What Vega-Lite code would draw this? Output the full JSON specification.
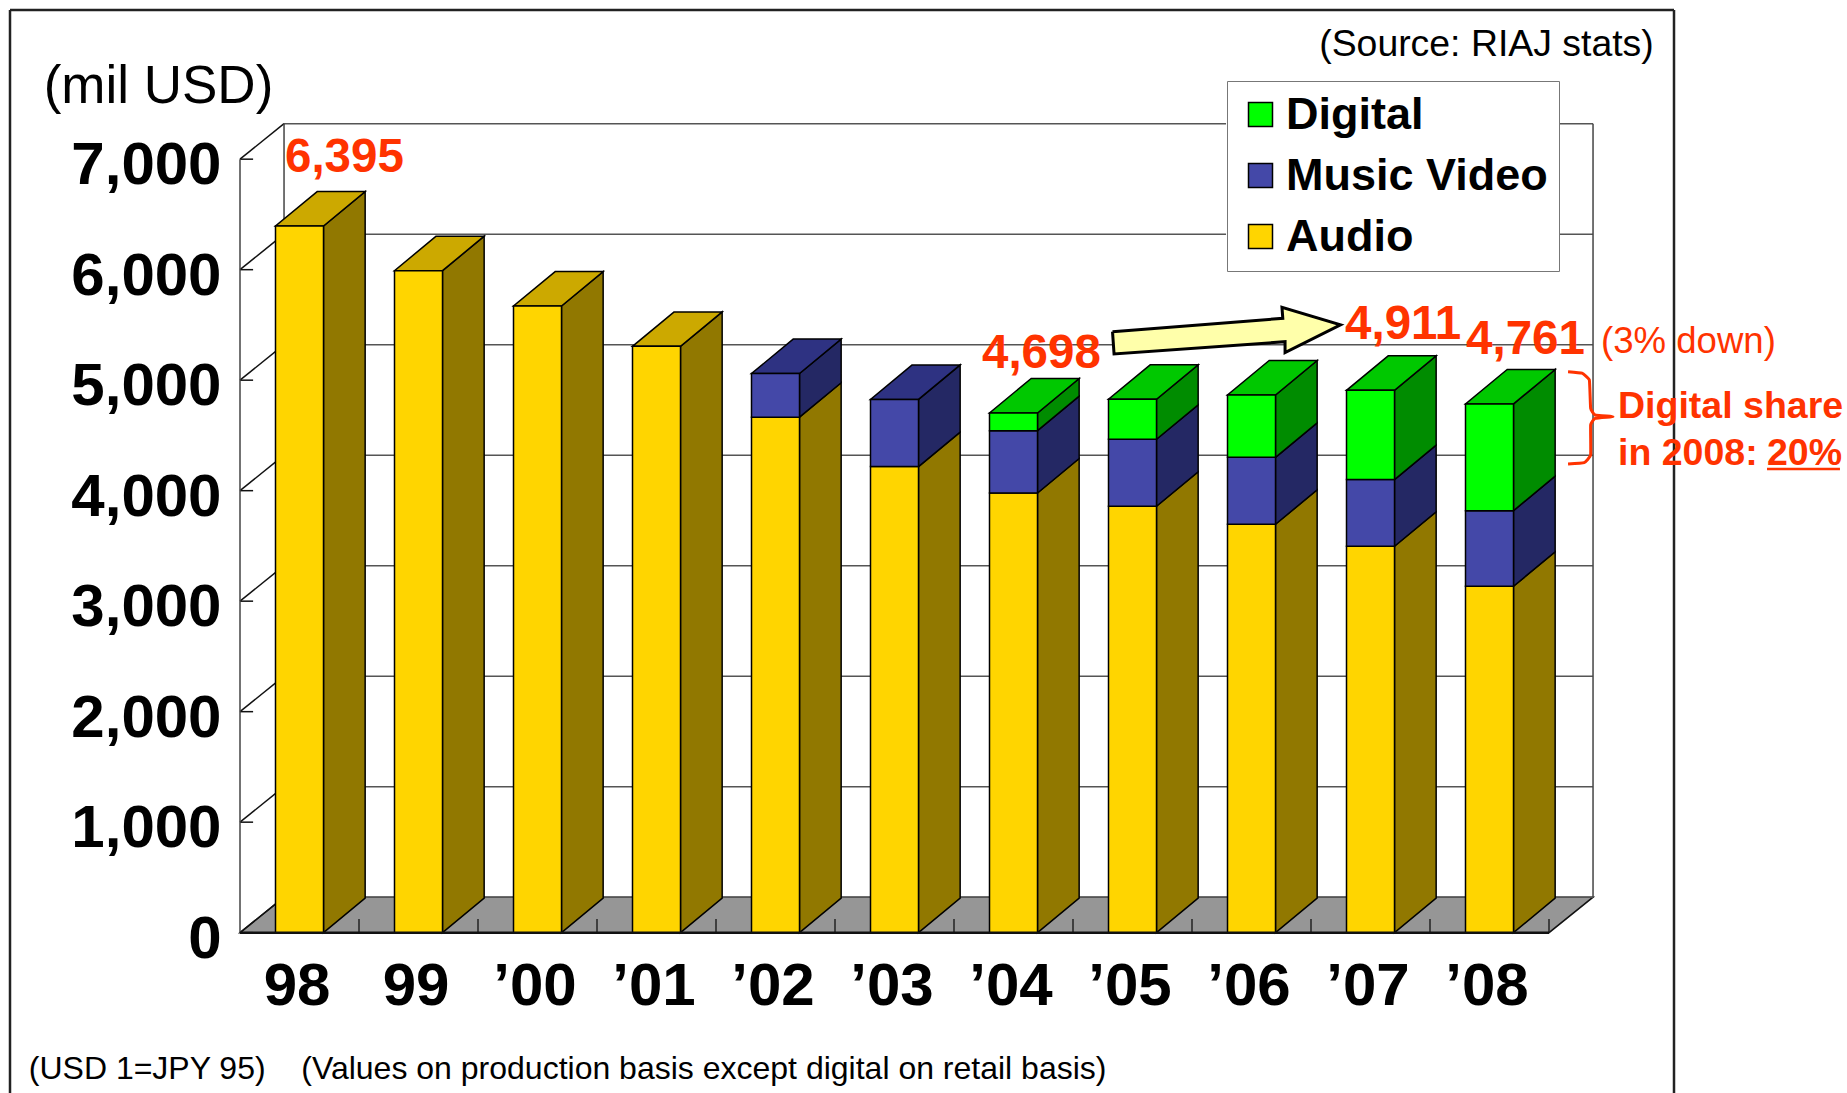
{
"$schema":"https://vega.github.io/schema/vega-lite/v6.json",
"width":1664,"height":1083,
"autosize":{"type":"none"},
"padding":{"left":10,"top":10,"right":173,"bottom":0},
"background":"white",
"view":{"stroke":null},
"config":{"font":"Liberation Sans"},
"datasets":{
"sales":[
{"year":"98","idx":0,"series":"Audio","rank":1,"value":6395},
{"year":"99","idx":1,"series":"Audio","rank":1,"value":5991},
{"year":"'00","idx":2,"series":"Audio","rank":1,"value":5671},
{"year":"'01","idx":3,"series":"Audio","rank":1,"value":5306},
{"year":"'02","idx":4,"series":"Audio","rank":1,"value":4665},
{"year":"'02","idx":4,"series":"Music Video","rank":2,"value":395},
{"year":"'03","idx":5,"series":"Audio","rank":1,"value":4218},
{"year":"'03","idx":5,"series":"Music Video","rank":2,"value":608},
{"year":"'04","idx":6,"series":"Audio","rank":1,"value":3979},
{"year":"'04","idx":6,"series":"Music Video","rank":2,"value":564},
{"year":"'04","idx":6,"series":"Digital","rank":3,"value":160},
{"year":"'05","idx":7,"series":"Audio","rank":1,"value":3859},
{"year":"'05","idx":7,"series":"Music Video","rank":2,"value":606},
{"year":"'05","idx":7,"series":"Digital","rank":3,"value":362},
{"year":"'06","idx":8,"series":"Audio","rank":1,"value":3696},
{"year":"'06","idx":8,"series":"Music Video","rank":2,"value":606},
{"year":"'06","idx":8,"series":"Digital","rank":3,"value":564},
{"year":"'07","idx":9,"series":"Audio","rank":1,"value":3497},
{"year":"'07","idx":9,"series":"Music Video","rank":2,"value":603},
{"year":"'07","idx":9,"series":"Digital","rank":3,"value":808},
{"year":"'08","idx":10,"series":"Audio","rank":1,"value":3135},
{"year":"'08","idx":10,"series":"Music Video","rank":2,"value":684},
{"year":"'08","idx":10,"series":"Digital","rank":3,"value":966}
],
"ticks":[{"tick":0},{"tick":1000},{"tick":2000},{"tick":3000},{"tick":4000},{"tick":5000},{"tick":6000},{"tick":7000}],
"cats":[{"c":0.5},{"c":1.5},{"c":2.5},{"c":3.5},{"c":4.5},{"c":5.5},{"c":6.5},{"c":7.5},{"c":8.5},{"c":9.5},{"c":10.5}],
"floor":[{"a":-0.5,"b":10.5,"v":0},{"a":-0.13,"b":10.87,"v":321}],
"walls":[
{"a":-0.5,"b":-0.5,"v":0,"w":7000},
{"a":-0.13,"b":-0.13,"v":321,"w":7321},
{"a":10.87,"b":10.87,"v":321,"w":7321}
],
"frame":[
{"a":-2.4328,"b":-2.4328,"v":-1451,"w":8350},
{"a":11.5504,"b":11.5504,"v":-1451,"w":8350},
{"a":-2.4328,"b":11.5504,"v":8350,"w":8350}
],
"mask":[{"a":7.786,"b":10.584,"v":6200,"w":7400}],
"arrow":[
{"n":0,"a":6.832,"v":5439},{"n":1,"a":8.263,"v":5560},{"n":2,"a":8.256,"v":5660},{"n":3,"a":8.748,"v":5500},{"n":4,"a":8.282,"v":5249},{"n":5,"a":8.282,"v":5348},{"n":6,"a":6.845,"v":5237},{"n":7,"a":6.832,"v":5439}
],
"brace":[
{"n":0,"a":10.66,"v":5077},{"n":1,"a":10.777,"v":5063},{"n":2,"a":10.839,"v":5002},{"n":3,"a":10.85,"v":4746},{"n":4,"a":10.887,"v":4685},{"n":5,"a":11.038,"v":4670},{"n":6,"a":10.887,"v":4655},{"n":7,"a":10.85,"v":4595},{"n":8,"a":10.85,"v":4323},{"n":9,"a":10.795,"v":4253},{"n":10,"a":10.66,"v":4241}
]
},
"resolve":{"scale":{"fill":"independent"}},
"layer":[
{"data":{"name":"floor"},"mark":{"type":"area","orient":"horizontal","fill":"#969696","stroke":"#111","strokeWidth":1.5},
 "encoding":{
  "y":{"field":"v","type":"quantitative","stack":null,"scale":{"domain":[-1451,8350],"nice":false,"zero":false},
   "axis":{"values":[0,1000,2000,3000,4000,5000,6000,7000],"format":",d","title":null,"domain":false,"ticks":false,"grid":false,"offset":-230,"labelPadding":19,"labelFont":"Liberation Sans","labelFontWeight":"bold","labelFontSize":60,"labelColor":"#000","labelBaseline":"middle","labelOffset":6.5,"labelBound":false,"labelFlush":false,"labelOverlap":false}},
  "x":{"field":"a","type":"quantitative","scale":{"domain":[-2.4328,11.5504],"nice":false,"zero":false},
   "axis":{"values":[0,1,2,3,4,5,6,7,8,9,10],"labelExpr":"['98','99','’00','’01','’02','’03','’04','’05','’06','’07','’08'][datum.value]","title":null,"domain":false,"ticks":false,"grid":false,"offset":-135.5,"labelPadding":0,"labelOffset":-3,"labelFont":"Liberation Sans","labelFontWeight":"bold","labelFontSize":60,"labelColor":"#000","labelBound":false,"labelFlush":false,"labelOverlap":false}},
  "x2":{"field":"b"}
 }},
{"data":{"name":"ticks"},"transform":[{"calculate":"datum.tick+321","as":"back"}],"mark":{"type":"rule","stroke":"#555","strokeWidth":1.5},
 "encoding":{"y":{"field":"back","type":"quantitative"},"x":{"datum":-0.13},"x2":{"datum":10.87}}},
{"data":{"name":"mask"},"mark":{"type":"rect","fill":"white"},
 "encoding":{"x":{"field":"a","type":"quantitative"},"x2":{"field":"b"},"y":{"field":"v","type":"quantitative"},"y2":{"field":"w"}}},
{"data":{"name":"ticks"},"transform":[{"calculate":"datum.tick+321","as":"back"}],"mark":{"type":"rule","stroke":"#111","strokeWidth":1.5},
 "encoding":{"y":{"field":"tick","type":"quantitative"},"y2":{"field":"back"},"x":{"datum":-0.5},"x2":{"datum":-0.13}}},
{"data":{"name":"ticks"},"mark":{"type":"rule","stroke":"#111","strokeWidth":1.5},
 "encoding":{"y":{"field":"tick","type":"quantitative"},"x":{"datum":-0.5},"x2":{"datum":-0.39}}},
{"data":{"name":"walls"},"mark":{"type":"rule","stroke":"#444","strokeWidth":1.5},
 "encoding":{"x":{"field":"a","type":"quantitative"},"x2":{"field":"b"},"y":{"field":"v","type":"quantitative"},"y2":{"field":"w"}}},
{"data":{"name":"cats"},"mark":{"type":"rule","stroke":"#222","strokeWidth":1.5},
 "encoding":{"x":{"field":"c","type":"quantitative"},"y":{"datum":0},"y2":{"datum":124}}},
{"data":{"name":"sales"},
 "transform":[
  {"stack":"value","groupby":["idx"],"sort":[{"field":"rank","order":"ascending"}],"as":["low","high"]},
  {"calculate":"datum.idx+0.2017","as":"xr"},
  {"calculate":"[0,1]","as":"side"},{"flatten":["side"]},
  {"calculate":"datum.xr+datum.side*0.35","as":"sx"},
  {"calculate":"datum.low+datum.side*312","as":"sl"},
  {"calculate":"datum.high+datum.side*312","as":"sh"}
 ],
 "mark":{"type":"area","stroke":"#000","strokeWidth":1.5},
 "encoding":{
  "x":{"field":"sx","type":"quantitative"},
  "y":{"field":"sl","type":"quantitative","stack":null},
  "y2":{"field":"sh"},
  "detail":[{"field":"idx"},{"field":"series"}],
  "fill":{"field":"series","type":"nominal","legend":null,"scale":{"domain":["Digital","Music Video","Audio"],"range":["#008C00","#242864","#917800"]}}
 }},
{"data":{"name":"sales"},
 "transform":[
  {"stack":"value","groupby":["idx"],"sort":[{"field":"rank","order":"ascending"}],"as":["low","high"]},
  {"joinaggregate":[{"op":"max","field":"high","as":"top"}],"groupby":["idx"]},
  {"filter":"datum.high==datum.top"},
  {"calculate":"[0,1]","as":"side"},{"flatten":["side"]},
  {"calculate":"datum.idx-0.2017+datum.side*0.35","as":"tl"},
  {"calculate":"datum.idx+0.2017+datum.side*0.35","as":"tr"},
  {"calculate":"datum.high+datum.side*312","as":"tv"}
 ],
 "mark":{"type":"area","orient":"horizontal","stroke":"#000","strokeWidth":1.5},
 "encoding":{
  "y":{"field":"tv","type":"quantitative","stack":null},
  "x":{"field":"tl","type":"quantitative"},
  "x2":{"field":"tr"},
  "detail":{"field":"idx"},
  "fill":{"field":"series","type":"nominal","legend":null,"scale":{"domain":["Digital","Music Video","Audio"],"range":["#00C800","#2E3282","#CCA900"]}}
 }},
{"data":{"name":"sales"},
 "transform":[
  {"stack":"value","groupby":["idx"],"sort":[{"field":"rank","order":"ascending"}],"as":["low","high"]},
  {"calculate":"datum.idx-0.2017","as":"xl"},
  {"calculate":"datum.idx+0.2017","as":"xr"}
 ],
 "mark":{"type":"rect","stroke":"#000","strokeWidth":1.5},
 "encoding":{
  "x":{"field":"xl","type":"quantitative"},"x2":{"field":"xr"},
  "y":{"field":"low","type":"quantitative"},"y2":{"field":"high"},
  "fill":{"field":"series","type":"nominal","sort":null,
   "scale":{"domain":["Digital","Music Video","Audio"],"range":["#00FF00","#4448A8","#FFD500"]},
   "legend":{"title":null,"orient":"none","legendX":1217,"legendY":71,"fillColor":"white","strokeColor":"#777","padding":11,"symbolType":"square","symbolSize":576,"symbolStrokeColor":"#000","symbolStrokeWidth":1.5,"labelFont":"Liberation Sans","labelFontWeight":"bold","labelFontSize":45,"labelColor":"#000","labelOffset":3,"labelLimit":400,"rowPadding":15}}
 }},
{"data":{"name":"floor"},"transform":[{"filter":"datum.v==0"}],"mark":{"type":"rule","stroke":"#111","strokeWidth":2.5},
 "encoding":{"x":{"field":"a","type":"quantitative"},"x2":{"field":"b"},"y":{"field":"v","type":"quantitative"}}},
{"data":{"name":"frame"},"mark":{"type":"rule","stroke":"#222","strokeWidth":2.5},
 "encoding":{"x":{"field":"a","type":"quantitative"},"x2":{"field":"b"},"y":{"field":"v","type":"quantitative"},"y2":{"field":"w"}}},
{"data":{"name":"arrow"},"mark":{"type":"line","fill":"#FFFFAA","stroke":"#000","strokeWidth":3},
 "encoding":{"x":{"field":"a","type":"quantitative"},"y":{"field":"v","type":"quantitative"},"order":{"field":"n"}}},
{"data":{"name":"brace"},"mark":{"type":"line","stroke":"#FF3300","strokeWidth":3,"interpolate":"cardinal","tension":0.7},
 "encoding":{"x":{"field":"a","type":"quantitative"},"y":{"field":"v","type":"quantitative"},"order":{"field":"n"}}},
{"data":{"values":[{"t":"6,395","a":-0.1218,"v":6884},{"t":"4,698","a":5.735,"v":5110},{"t":"4,911","a":8.786,"v":5373},{"t":"4,761","a":9.803,"v":5237}]},
 "mark":{"type":"text","align":"left","baseline":"alphabetic","fontSize":47.5,"fontWeight":"bold","fill":"#FF3300"},
 "encoding":{"x":{"field":"a","type":"quantitative"},"y":{"field":"v","type":"quantitative"},"text":{"field":"t"}}},
{"data":{"values":[{"t":"(3% down)","a":10.937,"v":5246}]},
 "mark":{"type":"text","align":"left","baseline":"alphabetic","fontSize":36.6,"fill":"#FF3300"},
 "encoding":{"x":{"field":"a","type":"quantitative"},"y":{"field":"v","type":"quantitative"},"text":{"field":"t"}}},
{"data":{"values":[{"t":"Digital share","a":11.08,"v":4658},{"t":"in 2008:","a":11.08,"v":4232},{"t":"20%","a":12.332,"v":4232}]},
 "mark":{"type":"text","align":"left","baseline":"alphabetic","fontSize":37.5,"fontWeight":"bold","fill":"#FF3300"},
 "encoding":{"x":{"field":"a","type":"quantitative"},"y":{"field":"v","type":"quantitative"},"text":{"field":"t"}}},
{"data":{"values":[{"a":12.332,"b":12.945,"v":4197}]},
 "mark":{"type":"rule","stroke":"#FF3300","strokeWidth":2.5},
 "encoding":{"x":{"field":"a","type":"quantitative"},"x2":{"field":"b"},"y":{"field":"v","type":"quantitative"}}},
{"data":{"values":[{"t":"(mil USD)","a":-2.15,"v":7511}]},
 "mark":{"type":"text","align":"left","baseline":"alphabetic","fontSize":53,"fill":"#000"},
 "encoding":{"x":{"field":"a","type":"quantitative"},"y":{"field":"v","type":"quantitative"},"text":{"field":"t"}}},
{"data":{"values":[{"t":"(Source: RIAJ stats)","a":11.38,"v":7934}]},
 "mark":{"type":"text","align":"right","baseline":"alphabetic","fontSize":37.4,"fill":"#000"},
 "encoding":{"x":{"field":"a","type":"quantitative"},"y":{"field":"v","type":"quantitative"},"text":{"field":"t"}}},
{"data":{"values":[{"t":"(USD 1=JPY 95)","a":-2.275,"v":-1324},{"t":"(Values on production basis except digital on retail basis)","a":0.015,"v":-1324}]},
 "mark":{"type":"text","align":"left","baseline":"alphabetic","fontSize":32,"fill":"#000"},
 "encoding":{"x":{"field":"a","type":"quantitative"},"y":{"field":"v","type":"quantitative"},"text":{"field":"t"}}}
]
}
